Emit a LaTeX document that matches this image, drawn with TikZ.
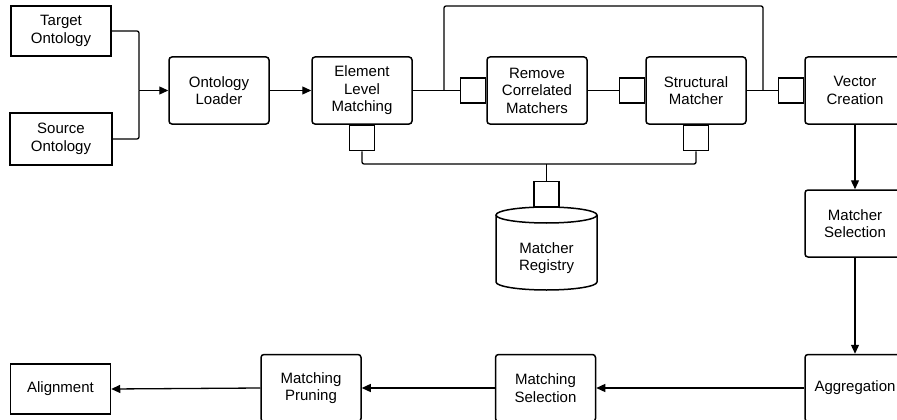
\documentclass[tikz,border=0pt]{standalone}
\usepackage{fontspec}
\setmainfont{Liberation Sans}
\usetikzlibrary{arrows.meta}

\begin{document}
\begin{tikzpicture}[x=1pt, y=-1pt,
		box/.style={draw, line width=1.5pt, minimum width=100pt, minimum height=67pt, align=center, inner sep=2pt, font=\fontsize{15}{17.5}\selectfont},
		rbox/.style={box, rounded corners=3pt},
		port/.style={draw, line width=1.5pt, minimum width=25pt, minimum height=25pt, inner sep=0pt},
		wire/.style={line width=1.3pt},
		flow/.style={wire, -{Triangle[length=9pt, width=8pt]}}]
		%%%%% START %%%%%
		\useasboundingbox (0, 0) rectangle (897, 420);
		
		\node[box, minimum height=50pt] (target) at (61, 31) {Target\\Ontology};
		\node[box, minimum width=102pt, minimum height=52pt] (source) at (61, 139) {Source\\Ontology};
		\node[rbox] (loader) at (219, 90.5) {Ontology\\Loader};
		\node[rbox] (elm) at (362, 90.5) {Element\\Level\\Matching};
		\node[rbox] (rcm) at (537, 90.5) {Remove\\Correlated\\Matchers};
		\node[rbox] (sm) at (696, 90.5) {Structural\\Matcher};
		\node[rbox] (vc) at (855, 90.5) {Vector\\Creation};
		\node[rbox] (msel) at (855, 223.5) {Matcher\\Selection};
		\node[rbox] (agg) at (855, 388) {Aggregation};
		\node[rbox] (matsel) at (545.5, 388) {Matching\\Selection};
		\node[rbox] (prune) at (311, 388) {Matching\\Pruning};
		\node[box, minimum height=50pt] (align) at (60.5, 389) {Alignment};
		
		% ports
		\node[port, anchor=north] (elmport) at (elm.south) {};
		\node[port, anchor=east] (rcmport) at (rcm.west) {};
		\node[port, anchor=east] (smport) at (sm.west) {};
		\node[port, anchor=north] (smbport) at (sm.south) {};
		\node[port, anchor=east] (vcport) at (vc.west) {};
		\node[port, anchor=south] (regport) at (546.5, 207) {};
		
		% registry
		\draw[line width=1.5pt] (546.5, 215) ellipse [x radius=50.5, y radius=8];
		\draw[line width=1.5pt] (496, 215) -- (496, 282) arc[start angle=180, end angle=0, x radius=50.5, y radius=8] -- (597, 215);
		\node[align=center, font=\fontsize{15}{17.5}\selectfont] (reg) at (546.5, 258) {Matcher\\Registry};
		
		\coordinate (join) at (139, 90.5);
		\draw[wire, rounded corners=2pt] (target.east) -| (join);
		\draw[wire, rounded corners=2pt] (source.east) -| (join);
		\draw[flow] (join) -- (loader.west);
		\draw[flow] (loader.east) -- (elm.west);
		
		\draw[wire] (elm.east) -- (rcmport.west);
		\draw[wire] (rcm.east) -- (smport.west);
		\draw[wire] (sm.east) -- (vcport.west);
		\coordinate (split) at (444, 90.5);
		\coordinate (merge) at (763, 90.5);
		\draw[wire, rounded corners=2pt] (split) -- ++(0, -84.5) -| (merge);
		
		\coordinate (bus) at (546.5, 164);
		\draw[wire, rounded corners=2pt] (elmport.south) |- (bus) -| (smbport.south);
		\draw[wire] (regport.north) -- (bus);
		
		\draw[flow] (vc.south) -- (msel.north);
		\draw[flow] (msel.south) -- (agg.north);
		\draw[flow] (agg.west) -- (matsel.east);
		\draw[flow] (matsel.west) -- (prune.east);
		\draw[flow] (prune.west) -- (align.east);
		%%%%% END %%%%%
\end{tikzpicture}
\end{document}
